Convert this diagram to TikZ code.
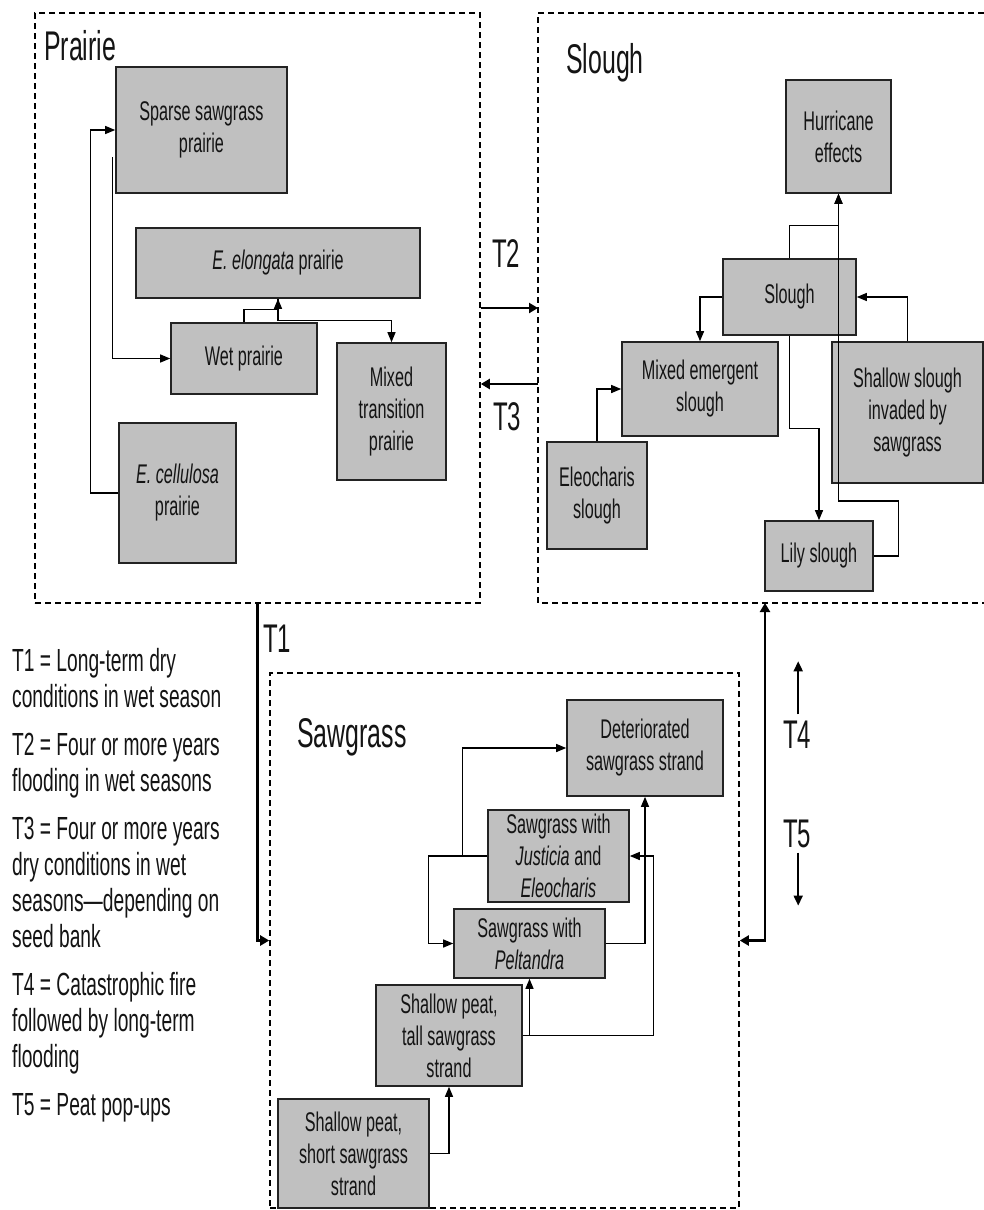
\documentclass[tikz,border=0pt]{standalone}
\usepackage{fontspec}
\setmainfont{Liberation Sans}[FakeStretch=0.6]
\usetikzlibrary{arrows.meta,calc}
\definecolor{boxgray}{RGB}{192,192,192}
\definecolor{edge}{RGB}{35,35,35}
\definecolor{ink}{RGB}{20,20,20}

\begin{document}
\begin{tikzpicture}[x=1pt,y=-1pt,
  box/.style={draw=edge, fill=boxgray, line width=1.6pt, align=center, inner sep=0pt,
              text=ink, font=\fontsize{27}{32}\selectfont},
  region/.style={draw=black, line width=1.6pt, dash pattern=on 6pt off 4pt},
  conn/.style={line width=1.3pt, -{Triangle[length=10pt,width=8pt]}},
  bigarrow/.style={line width=2.6pt, -{Triangle[length=9pt,width=10pt]}},
  smallarrow/.style={line width=1.8pt, -{Triangle[length=10pt,width=9pt]}},
  title/.style={anchor=base west, inner sep=0pt, text=ink, font=\fontsize{41.5}{46}\selectfont},
  tlabel/.style={anchor=base west, inner sep=0pt, text=ink, font=\fontsize{40}{44}\selectfont},
  legend/.style={anchor=base west, inner sep=0pt, text=ink, font=\fontsize{32}{36}\selectfont},
]
\useasboundingbox[fill=white] (0,0) rectangle (984,1210);

% ---------- dashed regions ----------
\node[region, minimum width=445pt, minimum height=590pt] (prairieR) at (257.5,308) {};
\node[region, minimum width=469pt, minimum height=535pt] (sawR) at (504.5,940.5) {};
\draw[region] (984,13) -- (538,13) -- (538,603) -- (984,603);
\coordinate (slw2) at (538,308);
\coordinate (slw3) at (538,384);
\coordinate (slbot) at (765,603);

% ---------- region titles ----------
\node[title] (prairieT) at (44,60) {Prairie};
\node[title] (sloughT) at (566,73) {Slough};
\node[title] (sawT) at (297,747) {Sawgrass};

% ---------- prairie states ----------
\node[box, minimum width=171pt, minimum height=126pt] (sparse) at (201.5,130) {Sparse sawgrass\\prairie};
\node[box, minimum width=284pt, minimum height=70pt] (elong) at (278,263) {\textit{E. elongata} prairie};
\node[box, minimum width=146pt, minimum height=71pt] (wet) at (244,358.5) {Wet prairie};
\node[box, minimum width=109pt, minimum height=137pt] (mixtr) at (391.5,411.5) {Mixed\\transition\\prairie};
\node[box, minimum width=117pt, minimum height=140pt] (cell) at (177.5,493) {\textit{E. cellulosa}\\prairie};

% ---------- slough states ----------
\node[box, minimum width=105pt, minimum height=113pt] (hurr) at (838.5,136.5) {Hurricane\\effects};
\node[box, minimum width=133pt, minimum height=76pt] (slough) at (789.5,297) {Slough};
\node[box, minimum width=156pt, minimum height=94pt] (mixem) at (700,389) {Mixed emergent\\slough};
\node[box, minimum width=151pt, minimum height=141pt] (shallow) at (907.5,412.5) {Shallow slough\\invaded by\\sawgrass};
\node[box, minimum width=100pt, minimum height=107pt] (eleo) at (597,495.5) {Eleocharis\\slough};
\node[box, minimum width=108pt, minimum height=70pt] (lily) at (819,556) {Lily slough};

% ---------- sawgrass states ----------
\node[box, minimum width=156pt, minimum height=96pt] (det) at (645,748) {Deteriorated\\sawgrass strand};
\node[box, minimum width=141pt, minimum height=92pt] (just) at (558.5,856) {Sawgrass with\\\textit{Justicia} and\\\textit{Eleocharis}};
\node[box, minimum width=151pt, minimum height=69pt] (pelt) at (529.5,943.5) {Sawgrass with\\\textit{Peltandra}};
\node[box, minimum width=146pt, minimum height=101pt] (tall) at (449,1035.5) {Shallow peat,\\tall sawgrass\\strand};
\node[box, minimum width=151pt, minimum height=109pt] (short) at (353.5,1153.5) {Shallow peat,\\short sawgrass\\strand};

% ---------- prairie transitions ----------
\draw[conn] (cell.west) -- ++(-28,0) |- (sparse.west);
\draw[conn] ($(sparse.west)+(-3,27)$) |- (wet.west);
\draw[conn] (wet.north) -- ++(0,-13) -| (elong.south);
\draw[conn] (elong.south) -- ++(0,22) -| (mixtr.north);

% ---------- slough transitions ----------
\draw[conn] (slough.north) -- ++(0,-33) -| (hurr.south);
\draw[conn] (lily.east) -- ++(25,0) -- ++(0,-55) -| (hurr.south);
\draw[conn] (slough.west) -| (mixem.north);
\draw[conn] (shallow.north) |- (slough.east);
\draw[conn] (slough.south) -- ++(0,93) -| (lily.north);
\draw[conn] (eleo.north) |- (mixem.west);

% ---------- sawgrass transitions ----------
\draw[conn] (short.east) -| (tall.south);
\draw[conn] (tall.east) -| (pelt.south);
\draw[conn] (tall.east) -- ++(131,0) |- (just.east);
\draw[conn] (pelt.east) -| (det.south);
\draw[conn] (just.west) -- ++(-25,0) |- (det.west);
\draw[conn] (just.west) -- ++(-59,0) |- (pelt.west);

% ---------- transitions between communities ----------
\draw[bigarrow] (prairieR.east) -- (slw2);
\draw[bigarrow] (slw3) -- (slw3 -| prairieR.east);
\draw[bigarrow] (prairieR.south) |- (sawR.west);
\draw[line width=2.6pt, {Triangle[length=9pt,width=10pt]}-{Triangle[length=9pt,width=10pt]}] (sawR.east) -| (slbot);

\node[tlabel] (t1) at (263,652) {T1};
\node[tlabel] (t2) at (492,267) {T2};
\node[tlabel] (t3) at (493,430) {T3};
\node[tlabel] (t4) at (783,748) {T4};
\node[tlabel] (t5) at (783,847) {T5};
\draw[smallarrow] ($(t4.north)+(1,-6)$) -- ++(0,-53);
\draw[smallarrow] ($(t5.south)+(1,5)$) -- ++(0,53);

% ---------- legend ----------
\node[legend] (lg1) at (12,671) {T1 = Long-term dry};
\node[legend] (lg2) at (12,707) {conditions in wet season};
\node[legend] (lg3) at (12,755) {T2 = Four or more years};
\node[legend] (lg4) at (12,791) {flooding in wet seasons};
\node[legend] (lg5) at (12,839) {T3 = Four or more years};
\node[legend] (lg6) at (12,875) {dry conditions in wet};
\node[legend] (lg7) at (12,911) {seasons—depending on};
\node[legend] (lg8) at (12,947) {seed bank};
\node[legend] (lg9) at (12,995) {T4 = Catastrophic fire};
\node[legend] (lg10) at (12,1031) {followed by long-term};
\node[legend] (lg11) at (12,1067) {flooding};
\node[legend] (lg12) at (12,1115) {T5 = Peat pop-ups};
\end{tikzpicture}
\end{document}
